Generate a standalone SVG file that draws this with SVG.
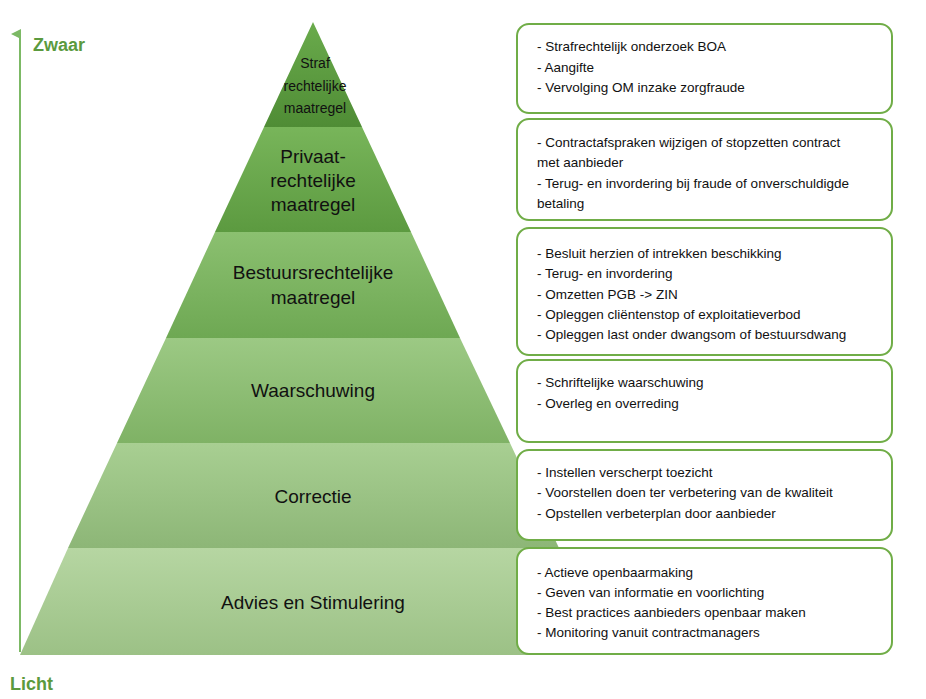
<svg xmlns="http://www.w3.org/2000/svg" width="926" height="699" viewBox="0 0 926 699">
<defs>
<linearGradient id="g1" x1="0" y1="0" x2="0" y2="1"><stop offset="0" stop-color="#6aab4c"/><stop offset="1" stop-color="#4f8c35"/></linearGradient>
<linearGradient id="g2" x1="0" y1="0" x2="0" y2="1"><stop offset="0" stop-color="#78b55a"/><stop offset="1" stop-color="#5c9a40"/></linearGradient>
<linearGradient id="g3" x1="0" y1="0" x2="0" y2="1"><stop offset="0" stop-color="#8bc070"/><stop offset="1" stop-color="#6ea853"/></linearGradient>
<linearGradient id="g4" x1="0" y1="0" x2="0" y2="1"><stop offset="0" stop-color="#9cc984"/><stop offset="1" stop-color="#7fb265"/></linearGradient>
<linearGradient id="g5" x1="0" y1="0" x2="0" y2="1"><stop offset="0" stop-color="#a8cf92"/><stop offset="1" stop-color="#8db677"/></linearGradient>
<linearGradient id="g6" x1="0" y1="0" x2="0" y2="1"><stop offset="0" stop-color="#b6d6a2"/><stop offset="1" stop-color="#9cc186"/></linearGradient>
<marker id="ah" markerWidth="10" markerHeight="10" refX="5" refY="9" orient="auto" markerUnits="userSpaceOnUse"><path d="M0,10 L5,0 L10,10 Z" fill="#7cb965"/></marker>
</defs>
<style>
.lbl{font-family:"Liberation Sans",Arial,sans-serif;fill:#111;text-anchor:middle}
.box{fill:#fff;stroke:#70ad47;stroke-width:2}
.bt{font-family:"Liberation Sans",Arial,sans-serif;font-size:13.5px;fill:#111}
.ax{font-family:"Liberation Sans",Arial,sans-serif;font-size:18px;font-weight:bold;fill:#5b9a3e}
</style>
<rect width="926" height="699" fill="#fff"/>
<g id="axis">
<line x1="20" y1="652" x2="20" y2="34" stroke="#7cb965" stroke-width="2" marker-end="url(#ah)"/>
<text class="ax" x="33" y="51">Zwaar</text>
<text class="ax" x="10" y="690">Licht</text>
</g>
<g id="pyramid">
<g id="l1"><polygon points="313,22 362,127 264,127" fill="url(#g1)"/>
<text class="lbl" font-size="14" x="315" y="68">Straf</text><text class="lbl" font-size="14" x="315" y="91">rechtelijke</text><text class="lbl" font-size="14" x="315" y="113">maatregel</text></g>
<g id="l2"><polygon points="264,127 362,127 411,232 215,232" fill="url(#g2)"/>
<text class="lbl" font-size="19" x="313" y="163">Privaat-</text><text class="lbl" font-size="19" x="313" y="187">rechtelijke</text><text class="lbl" font-size="19" x="313" y="211">maatregel</text></g>
<g id="l3"><polygon points="215,232 411,232 460,338 166,338" fill="url(#g3)"/>
<text class="lbl" font-size="19" x="313" y="279">Bestuursrechtelijke</text><text class="lbl" font-size="19" x="313" y="304">maatregel</text></g>
<g id="l4"><polygon points="166,338 460,338 510,443 117,443" fill="url(#g4)"/>
<text class="lbl" font-size="19" x="313" y="397">Waarschuwing</text></g>
<g id="l5"><polygon points="117,443 510,443 559,548 68,548" fill="url(#g5)"/>
<text class="lbl" font-size="19" x="313" y="503">Correctie</text></g>
<g id="l6"><polygon points="68,548 559,548 608,655 20,655" fill="url(#g6)"/>
<text class="lbl" font-size="19" x="313" y="609">Advies en Stimulering</text></g>
</g>
<g id="b1"><rect class="box" x="517" y="24" width="375" height="89" rx="12"/>
<text class="bt" x="537" y="51">- Strafrechtelijk onderzoek BOA</text><text class="bt" x="537" y="72">- Aangifte</text><text class="bt" x="537" y="92">- Vervolging OM inzake zorgfraude</text></g>
<g id="b2"><rect class="box" x="517" y="119" width="375" height="101" rx="12"/>
<text class="bt" x="537" y="147">- Contractafspraken wijzigen of stopzetten contract</text><text class="bt" x="537" y="167">met aanbieder</text><text class="bt" x="537" y="188">- Terug- en invordering bij fraude of onverschuldigde</text><text class="bt" x="537" y="208">betaling</text></g>
<g id="b3"><rect class="box" x="517" y="228" width="375" height="127" rx="12"/>
<text class="bt" x="537" y="258">- Besluit herzien of intrekken beschikking</text><text class="bt" x="537" y="278">- Terug- en invordering</text><text class="bt" x="537" y="299">- Omzetten PGB -&gt; ZIN</text><text class="bt" x="537" y="319">- Opleggen cliëntenstop of exploitatieverbod</text><text class="bt" x="537" y="339">- Opleggen last onder dwangsom of bestuursdwang</text></g>
<g id="b4"><rect class="box" x="517" y="360" width="375" height="82" rx="12"/>
<text class="bt" x="537" y="387">- Schriftelijke waarschuwing</text><text class="bt" x="537" y="408">- Overleg en overreding</text></g>
<g id="b5"><rect class="box" x="517" y="450" width="375" height="90" rx="12"/>
<text class="bt" x="537" y="477">- Instellen verscherpt toezicht</text><text class="bt" x="537" y="497">- Voorstellen doen ter verbetering van de kwaliteit</text><text class="bt" x="537" y="518">- Opstellen verbeterplan door aanbieder</text></g>
<g id="b6"><rect class="box" x="517" y="548" width="375" height="106" rx="12"/>
<text class="bt" x="537" y="577">- Actieve openbaarmaking</text><text class="bt" x="537" y="597">- Geven van informatie en voorlichting</text><text class="bt" x="537" y="617">- Best practices aanbieders openbaar maken</text><text class="bt" x="537" y="637">- Monitoring vanuit contractmanagers</text></g>
</svg>
